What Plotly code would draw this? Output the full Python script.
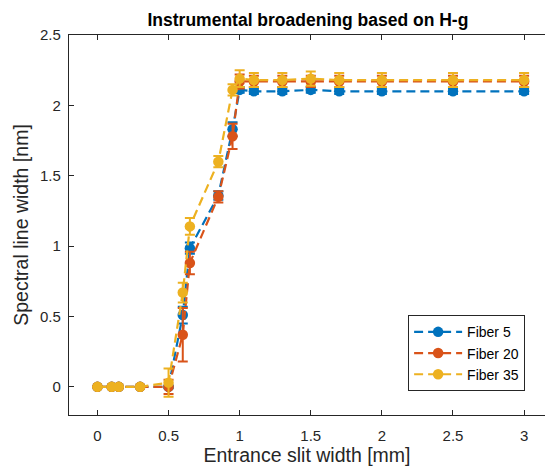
import plotly.graph_objects as go

x = [0, 0.1, 0.15, 0.3, 0.5, 0.6, 0.65, 0.85, 0.95, 1.0, 1.1, 1.3, 1.5, 1.7, 2.0, 2.5, 3.0]

fiber5 = [0, 0, 0, 0, 0, 0.51, 0.985, 1.36, 1.83, 2.11, 2.10, 2.10, 2.11, 2.10, 2.10, 2.10, 2.10]
fiber5_err = [0, 0, 0, 0, 0.01, 0.06, 0.04, 0.03, 0.05, 0.02, 0.02, 0.02, 0.02, 0.02, 0.02, 0.02, 0.02]

fiber20 = [0, 0, 0, 0, 0.0, 0.37, 0.88, 1.35, 1.78, 2.17, 2.17, 2.17, 2.17, 2.17, 2.17, 2.17, 2.17]
fiber20_err = [0, 0, 0, 0, 0.05, 0.19, 0.08, 0.04, 0.09, 0.05, 0.04, 0.04, 0.04, 0.04, 0.04, 0.04, 0.04]

fiber35 = [0, 0, 0, 0, 0.03, 0.67, 1.14, 1.60, 2.11, 2.19, 2.18, 2.18, 2.19, 2.18, 2.18, 2.18, 2.18]
fiber35_err = [0, 0, 0, 0, 0.10, 0.07, 0.06, 0.04, 0.04, 0.06, 0.05, 0.05, 0.05, 0.05, 0.05, 0.05, 0.05]

names = ["Fiber 5", "Fiber 20", "Fiber 35"]
colors = ["#0072BD", "#D95319", "#EDB120"]

fig = go.Figure()
for name, ys, es, c in zip(names, [fiber5, fiber20, fiber35], [fiber5_err, fiber20_err, fiber35_err], colors):
    fig.add_trace(go.Scatter(
        x=x, y=ys, name=name, mode="lines+markers",
        line=dict(color=c, width=2.2, dash="9px,5px"),
        marker=dict(color=c, size=10.5, symbol="circle"),
        error_y=dict(type="data", array=es, visible=True, color=c, thickness=2, width=5),
    ))

font_col = "#262626"
fig.update_layout(
    width=545, height=468,
    margin=dict(l=69, r=0, t=35, b=53),
    paper_bgcolor="white", plot_bgcolor="white",
    font=dict(family="Liberation Sans, Arial, sans-serif", size=15, color=font_col),
    title=dict(text="<b>Instrumental broadening based on H-g</b>", x=0.565, xanchor="center",
               y=0.957, yanchor="middle", font=dict(size=17.5, color="black")),
    showlegend=True,
    legend=dict(x=0.712, y=0.263, xanchor="left", yanchor="top",
                bordercolor="#262626", borderwidth=1.2, bgcolor="white",
                font=dict(size=14, color="black"), tracegroupgap=0, itemwidth=48),
)
fig.update_xaxes(
    range=[-0.2, 3.147], tickvals=[0, 0.5, 1, 1.5, 2, 2.5, 3],
    ticktext=["0", "0.5", "1", "1.5", "2", "2.5", "3"],
    showline=True, linecolor="#262626", linewidth=1.2, mirror="ticks",
    ticks="inside", ticklen=5, tickcolor="#262626", tickwidth=1.2,
    ticklabelstandoff=7,
    showgrid=False, zeroline=False,
    title=dict(text="Entrance slit width [mm]", font=dict(size=19.5, color=font_col), standoff=4),
)
fig.update_yaxes(
    range=[-0.2, 2.5], tickvals=[0, 0.5, 1, 1.5, 2, 2.5],
    ticktext=["0", "0.5", "1", "1.5", "2", "2.5"],
    showline=True, linecolor="#262626", linewidth=1.2, mirror=False,
    ticks="inside", ticklen=5, tickcolor="#262626", tickwidth=1.2,
    ticklabelstandoff=4,
    showgrid=False, zeroline=False,
    title=dict(text="Spectral line width [nm]", font=dict(size=19.5, color=font_col), standoff=6),
)

fig.write_html("out.html")
